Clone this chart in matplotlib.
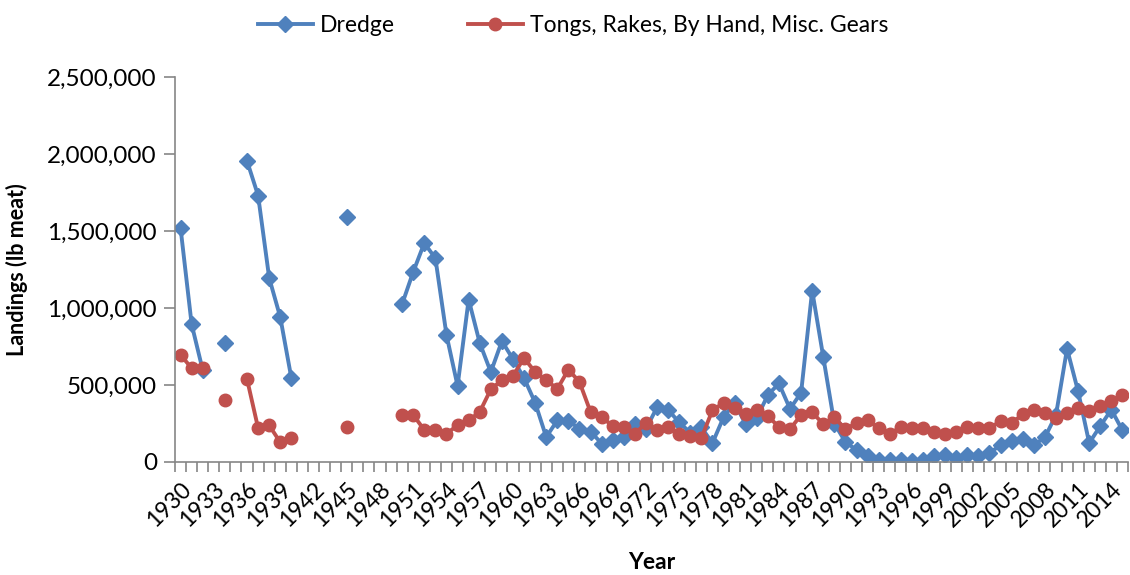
import matplotlib
matplotlib.use('Agg')
import matplotlib.pyplot as plt
import numpy as np
from matplotlib.ticker import FuncFormatter, FixedLocator

nan = np.nan

# 年份 1930-2015
years = list(range(1930, 2016))

# Dredge 捕捞量 (lb meat)
dredge = [1520000, 895000, 597000, nan, 770000, nan, 1955000, 1730000, 1195000, 940000,
          545000, nan, nan, nan, nan, 1592000, nan, nan, nan, nan,
          1026000, 1235000, 1422000, 1322000, 825000, 494000, 1055000, 773000, 584000, 785000,
          668000, 545000, 385000, 162000, 270000, 268000, 216000, 198000, 120000, 140000,
          160000, 250000, 215000, 355000, 338000, 258000, 190000, 225000, 123000, 290000,
          385000, 245000, 286000, 435000, 510000, 345000, 450000, 1113000, 682000, 250000,
          130000, 78000, 39000, 10000, 15000, 12000, 5000, 13000, 42000, 48000,
          26000, 45000, 40000, 58000, 110000, 136000, 150000, 110000, 160000, 305000,
          735000, 458000, 123000, 234000, 340000, 205000]

# Tongs, Rakes, By Hand, Misc. Gears
tongs = [695000, 610000, 610000, nan, 400000, nan, 538000, 220000, 238000, 128000,
         153000, nan, nan, nan, nan, 225000, nan, nan, nan, nan,
         306000, 305000, 208000, 210000, 182000, 240000, 270000, 325000, 472000, 532000,
         560000, 675000, 584000, 532000, 474000, 600000, 520000, 325000, 292000, 234000,
         227000, 182000, 255000, 205000, 227000, 182000, 169000, 156000, 336000, 383000,
         351000, 312000, 335000, 299000, 227000, 214000, 305000, 322000, 247000, 290000,
         214000, 253000, 270000, 221000, 182000, 227000, 221000, 221000, 195000, 182000,
         195000, 227000, 221000, 221000, 264000, 253000, 310000, 340000, 316000, 286000,
         318000, 351000, 331000, 362000, 394000, 435000]

label_years = list(range(1930, 2015, 3))

plt.rcParams['font.family'] = ['Lato', 'DejaVu Sans']

fig = plt.figure(figsize=(11.3, 5.75), dpi=100, facecolor='white')
ax = fig.add_axes([175/1130, 113/575, 953/1130, 385/575])

ax.plot(years, dredge, color='#4F81BD', linewidth=2.8, marker='D', markersize=8.5,
        label='Dredge')
ax.plot(years, tongs, color='#C0504D', linewidth=2.8, marker='o', markersize=9,
        label='Tongs, Rakes, By Hand, Misc. Gears')

ax.set_xlim(1929.5, 2015.5)
ax.set_ylim(0, 2500000)
ax.set_yticks(np.arange(0, 2500001, 500000))
ax.yaxis.set_major_formatter(FuncFormatter(lambda v, p: '{:,.0f}'.format(v)))

# 横轴：每年一个刻度，每三年一个标签
ax.xaxis.set_major_locator(FixedLocator(label_years))
ax.xaxis.set_minor_locator(FixedLocator(np.arange(1929.5, 2016, 1)))
ax.set_xticklabels([str(y) for y in label_years], rotation=45, ha='right',
                   rotation_mode='anchor')
ax.tick_params(axis='x', which='major', length=0, pad=12, labelsize=16.5)
ax.tick_params(axis='x', which='minor', length=7, width=1.2, color='#868686', direction='out')
ax.tick_params(axis='y', which='major', length=8, width=1.2, color='#868686',
               labelsize=17.5, pad=5)

for s in ['top', 'right']:
    ax.spines[s].set_visible(False)
for s in ['left', 'bottom']:
    ax.spines[s].set_color('#868686')
    ax.spines[s].set_linewidth(1.2)

ax.set_xlabel('Year', fontsize=16.5, fontweight='bold', labelpad=15)
ax.set_ylabel('Landings (lb meat)', fontsize=15.5, fontweight='bold', labelpad=14)

fig.legend(loc='upper center', bbox_to_anchor=(0.507, 1.01), ncol=2, frameon=False,
           fontsize=16.5, handlelength=2.4, columnspacing=3.2, handletextpad=0.3)

fig.savefig('out.png', dpi=100, facecolor='white')
